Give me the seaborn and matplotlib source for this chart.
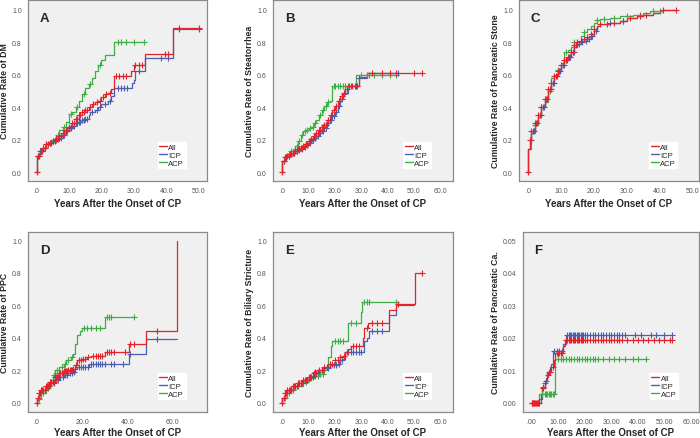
import numpy as np
import pandas as pd
import matplotlib
matplotlib.use("Agg")
import matplotlib.pyplot as plt
import seaborn as sns

# ---------------- data ----------------
# step curves: event times (T) and cumulative rate after each time (Y)
# censor times (C) are plotted as "+" on the curve

# A - DM
A_ALL_T = [0, 0, 1, 2, 3, 4, 5, 6, 7, 8, 9, 10, 11, 12, 13, 14, 15, 16, 17, 18, 19, 20, 21, 22, 23, 24, 29, 30, 33.5, 42, 50]
A_ALL_Y = [0, 0.10, 0.13, 0.15, 0.17, 0.18, 0.19, 0.205, 0.22, 0.24, 0.26, 0.28, 0.305, 0.33, 0.35, 0.37, 0.38, 0.40, 0.42, 0.43, 0.44, 0.46, 0.48, 0.49, 0.51, 0.59, 0.62, 0.66, 0.73, 0.89, 0.89]
A_ALL_C = [0.4, 0.8, 1.2, 1.6, 2.0, 2.5, 3.0, 3.5, 4.0, 4.5, 5.0, 5.5, 6.0, 6.5, 7.0, 7.5, 8.0, 8.5, 9.0, 9.5, 10.0, 10.5, 11.0, 11.5, 12.0, 12.5, 13.0, 13.5, 14.0, 14.5, 15.0, 15.5, 16.5, 17.5, 18.5, 19.5, 20.5, 21.5, 22.5, 24.5, 25.5, 26.5, 27.5, 30.5, 31.5, 32.5, 39.5, 40.5, 44, 50]
A_ICP_T = [0, 0, 1, 2, 3, 4, 5, 6, 7, 8, 9, 10, 11, 12, 13, 14, 15, 16, 16.5, 18, 19, 20, 22, 23, 24, 29.5, 30, 30.5, 33.5, 42, 50]
A_ICP_Y = [0, 0.10, 0.13, 0.15, 0.17, 0.18, 0.19, 0.20, 0.21, 0.23, 0.25, 0.27, 0.285, 0.30, 0.31, 0.32, 0.33, 0.35, 0.37, 0.38, 0.40, 0.42, 0.44, 0.47, 0.52, 0.55, 0.57, 0.62, 0.70, 0.88, 0.88]
A_ICP_C = [0.5, 1, 1.5, 2, 3, 4, 5, 6, 7, 7.5, 8, 8.5, 9, 9.5, 10, 10.5, 11, 11.5, 12, 12.5, 13, 13.5, 14, 14.5, 15, 15.5, 17, 18.5, 19.5, 21, 22.5, 25, 26, 27, 28, 31.5, 38.5, 40.5, 44, 50]
A_ACP_T = [0, 0, 1, 2, 3, 4, 5, 6, 7, 8, 9, 10, 11, 12, 13, 14, 15, 16, 17, 18, 19, 20, 21, 24, 33]
A_ACP_Y = [0, 0.10, 0.13, 0.15, 0.17, 0.185, 0.20, 0.23, 0.26, 0.28, 0.31, 0.355, 0.37, 0.40, 0.44, 0.48, 0.52, 0.54, 0.58, 0.62, 0.66, 0.69, 0.72, 0.80, 0.80]
A_ACP_C = [1.5, 2.5, 3.5, 4.5, 5.5, 6.5, 8.5, 10.5, 12.5, 14.5, 16.5, 19.5, 25, 26, 27.5, 30, 33]

# B - Steatorrhea
B_ALL_T = [0, 0, 1, 2, 3, 4, 5, 6, 7, 8, 9, 10, 11, 12, 13, 14, 15, 16, 17, 18, 19, 20, 21, 22, 23, 24, 25, 29, 32, 53]
B_ALL_Y = [0, 0.07, 0.09, 0.10, 0.11, 0.12, 0.13, 0.14, 0.15, 0.16, 0.175, 0.19, 0.205, 0.22, 0.24, 0.26, 0.275, 0.29, 0.32, 0.35, 0.38, 0.41, 0.44, 0.47, 0.49, 0.51, 0.53, 0.585, 0.61, 0.61]
B_ALL_C = [0.5, 1.0, 1.5, 2.0, 2.5, 3.0, 3.5, 4.0, 4.5, 5.0, 5.5, 6.0, 6.5, 7.0, 7.5, 8.0, 8.5, 9.0, 9.5, 10.0, 10.5, 11.0, 11.5, 12.0, 12.5, 13.0, 13.5, 14.0, 14.5, 15.0, 15.5, 16.0, 16.5, 17.5, 18.5, 19.5, 20.5, 21.5, 22.5, 23.5, 24.5, 25.5, 26.5, 27.5, 28.5, 34, 38, 41, 43, 50, 53]
B_ICP_T = [0, 0, 1, 2, 3, 4, 5, 6, 7, 8, 9, 10, 11, 12, 13, 14, 15, 16, 17, 18, 19, 20, 21, 22, 23, 24, 25, 29, 32, 44]
B_ICP_Y = [0, 0.07, 0.09, 0.10, 0.11, 0.12, 0.13, 0.135, 0.145, 0.155, 0.165, 0.18, 0.195, 0.21, 0.225, 0.24, 0.255, 0.27, 0.30, 0.32, 0.345, 0.37, 0.41, 0.45, 0.48, 0.49, 0.53, 0.58, 0.61, 0.61]
B_ICP_C = [0.5, 1.5, 2.5, 3.5, 4.5, 5.5, 6.5, 7.5, 8.5, 9.5, 10.5, 11.5, 12.5, 13.5, 14.5, 15.5, 16.5, 17.5, 18.5, 19.5, 20.5, 21.5, 22.5, 23.5, 26, 28, 29, 44]
B_ACP_T = [0, 0, 1, 2, 3, 4, 5, 6, 7, 8, 9, 10, 11, 12, 13, 14, 15, 16, 17, 18, 19, 28, 44]
B_ACP_Y = [0, 0.07, 0.09, 0.11, 0.13, 0.14, 0.16, 0.19, 0.23, 0.25, 0.26, 0.27, 0.28, 0.30, 0.32, 0.35, 0.38, 0.41, 0.43, 0.44, 0.53, 0.60, 0.60]
B_ACP_C = [1.5, 2.5, 3.5, 5.5, 6.5, 7.5, 8.5, 9.5, 10.5, 11.5, 12.5, 14.5, 15.5, 16.5, 17.5, 19.5, 20, 21, 22, 23, 24, 25, 30, 32, 33, 35, 38, 41, 43]

# C - Pancreatic stone
C_ALL_T = [0, 0, 0.5, 1, 2, 3, 4, 5, 6, 7, 8, 9, 10, 11, 12, 13, 14, 15, 16, 17, 18, 19, 20, 21, 22, 25, 28, 30, 33, 35, 38, 40, 41, 45]
C_ALL_Y = [0, 0.14, 0.20, 0.25, 0.30, 0.35, 0.40, 0.45, 0.51, 0.55, 0.59, 0.62, 0.66, 0.69, 0.71, 0.74, 0.78, 0.80, 0.81, 0.82, 0.83, 0.85, 0.88, 0.90, 0.91, 0.92, 0.93, 0.95, 0.96, 0.97, 0.98, 0.99, 1.0, 1.0]
C_ALL_C = [0.5, 1.0, 1.5, 2.0, 2.5, 3.0, 3.5, 4.0, 4.5, 5.0, 5.5, 6.0, 6.5, 7.0, 7.5, 8.0, 8.5, 9.0, 9.5, 10.0, 10.5, 11.0, 11.5, 12.0, 12.5, 13.0, 13.5, 14.0, 14.5, 15.0, 16.0, 17.0, 18.0, 19.0, 20.0, 22, 24, 26, 29, 31, 34, 36, 41, 45]
C_ICP_T = [0, 0, 0.5, 1, 2, 3, 4, 5, 6, 7, 8, 9, 10, 11, 12, 13, 14, 15, 16, 17, 18, 19, 20, 21, 22, 25, 28, 30, 33, 35, 38, 40, 41, 45]
C_ICP_Y = [0, 0.14, 0.20, 0.25, 0.30, 0.35, 0.40, 0.45, 0.51, 0.55, 0.59, 0.62, 0.66, 0.69, 0.71, 0.74, 0.77, 0.79, 0.80, 0.81, 0.82, 0.84, 0.87, 0.90, 0.91, 0.92, 0.93, 0.95, 0.96, 0.97, 0.98, 0.99, 1.0, 1.0]
C_ICP_C = [0.8, 1.8, 2.8, 3.8, 4.8, 5.8, 6.8, 7.8, 8.8, 9.8, 10.8, 11.8, 12.8, 13.8, 15.5, 16.5, 17.5, 18.5, 19.5, 20.5, 25, 29]
C_ACP_T = [0, 0, 1, 2, 3, 4, 5, 6, 7, 8, 9, 10, 11, 12, 13, 14, 15, 16, 17, 18, 19, 20, 21, 22, 25, 28, 32, 35, 37, 40]
C_ACP_Y = [0, 0.14, 0.24, 0.29, 0.34, 0.40, 0.43, 0.50, 0.58, 0.60, 0.63, 0.67, 0.74, 0.75, 0.77, 0.80, 0.81, 0.84, 0.86, 0.88, 0.90, 0.92, 0.935, 0.94, 0.95, 0.96, 0.97, 0.98, 0.99, 0.99]
C_ACP_C = [2, 4, 6.5, 9, 11.5, 14, 17, 21, 23, 26, 30, 34, 38, 40]

# D - PPC
D_ALL_T = [0, 0, 1, 2, 4, 6, 8, 10, 12, 14, 16, 17, 18, 20, 22, 24, 30, 40.5, 48, 62]
D_ALL_Y = [0, 0.03, 0.06, 0.075, 0.10, 0.13, 0.16, 0.18, 0.195, 0.20, 0.21, 0.23, 0.26, 0.27, 0.28, 0.29, 0.31, 0.36, 0.44, 1.0]
D_ALL_C = [0.5, 1.0, 1.5, 2.0, 2.5, 3.0, 3.5, 4.0, 4.5, 5.0, 5.5, 6.0, 6.5, 7.0, 7.5, 8.0, 8.5, 9.0, 9.5, 10.0, 10.5, 11.0, 11.5, 12.0, 12.5, 13.0, 13.5, 14.0, 14.5, 15.0, 15.5, 16.0, 17.5, 18.5, 19.5, 20.5, 21.5, 22.5, 25, 26, 27, 28, 29, 31, 32, 33, 34, 39, 41, 43, 53]
D_ICP_T = [0, 0, 1, 2, 4, 6, 8, 10, 12, 14, 16, 17, 18, 23, 40.5, 48, 62]
D_ICP_Y = [0, 0.03, 0.06, 0.075, 0.10, 0.12, 0.14, 0.16, 0.17, 0.18, 0.19, 0.21, 0.22, 0.24, 0.30, 0.39, 0.39]
D_ICP_C = [1.5, 2.5, 3.5, 4.5, 5.5, 6.5, 7.5, 8.5, 9.5, 10.5, 11.5, 12.5, 13.5, 14.5, 15.5, 16.5, 18.5, 19.5, 20.5, 21.5, 22.5, 24, 25, 26, 27, 28, 29, 30, 33, 34, 38, 41, 53]
D_ACP_T = [0, 0, 2, 4, 6, 7, 8, 10, 12, 13, 15, 16, 17, 18, 19, 20, 30, 43]
D_ACP_Y = [0, 0.02, 0.06, 0.09, 0.14, 0.17, 0.20, 0.22, 0.24, 0.26, 0.28, 0.30, 0.36, 0.42, 0.44, 0.46, 0.53, 0.53]
D_ACP_C = [1, 3, 5, 7.5, 9, 11, 12.5, 14, 15.5, 21, 22, 24, 26, 28, 31, 32, 33, 43]

# E - Biliary stricture
E_ALL_T = [0, 0, 1, 2, 4, 6, 8, 10, 12, 14, 16, 18, 20, 22, 23, 24, 25, 26, 30.5, 31, 32.5, 40.5, 43, 50.5, 53]
E_ALL_Y = [0, 0.03, 0.06, 0.08, 0.105, 0.12, 0.14, 0.16, 0.18, 0.20, 0.22, 0.24, 0.26, 0.28, 0.29, 0.31, 0.33, 0.35, 0.40, 0.46, 0.49, 0.57, 0.61, 0.80, 0.80]
E_ALL_C = [0.5, 1.0, 1.5, 2.0, 2.5, 3.0, 3.5, 4.0, 4.5, 5.0, 5.5, 6.0, 6.5, 7.0, 7.5, 8.0, 8.5, 9.0, 9.5, 10.0, 10.5, 11.0, 11.5, 12.0, 13.0, 14.0, 15.0, 16.0, 17.0, 18.0, 19.0, 20.0, 21.0, 22.0, 23.5, 24.5, 27, 28, 29, 32, 34, 36, 38, 44, 53]
E_ICP_T = [0, 0, 1, 2, 4, 6, 8, 10, 12, 14, 16, 18, 20, 21, 22, 23, 24, 31, 32, 33, 40.5, 43, 50]
E_ICP_Y = [0, 0.03, 0.06, 0.08, 0.105, 0.12, 0.14, 0.165, 0.19, 0.20, 0.215, 0.23, 0.235, 0.24, 0.26, 0.27, 0.31, 0.38, 0.40, 0.44, 0.54, 0.60, 0.60]
E_ICP_C = [1.5, 3.5, 5.5, 7.5, 9.5, 11.5, 12.5, 13.5, 15.5, 17.5, 19.5, 20.5, 21.5, 22.5, 25, 26, 27, 28, 29, 30, 34, 36, 38]
E_ACP_T = [0, 0, 2, 3, 5, 8, 10, 12, 14, 16, 17, 17.5, 18.5, 19, 25, 30, 30.3, 43]
E_ACP_Y = [0, 0.03, 0.06, 0.075, 0.10, 0.13, 0.15, 0.165, 0.175, 0.20, 0.22, 0.28, 0.35, 0.38, 0.49, 0.56, 0.62, 0.62]
E_ACP_C = [1, 2.5, 4, 6, 9, 11, 12.5, 13.5, 14.5, 15.5, 20, 21, 22, 23, 26, 28, 31, 32, 33, 43]

# F - Pancreatic cancer
F_ALL_T = [0, 3, 3.5, 4, 5, 5.5, 6, 6.5, 7.5, 8.5, 9, 12, 12.5, 53]
F_ALL_Y = [0, 0.0011, 0.0025, 0.0045, 0.006, 0.0075, 0.0085, 0.0095, 0.011, 0.0132, 0.0153, 0.0173, 0.0192, 0.0192]
F_ALL_C = [0.2, 0.5, 0.8, 1.1, 1.4, 1.7, 2.0, 2.3, 2.6, 2.9, 4.5, 5.2, 6.2, 7.0, 8.0, 9.5, 10.0, 10.5, 11.0, 11.5, 13.0, 13.5, 14.0, 14.5, 15.0, 15.5, 16.0, 16.5, 17.0, 17.5, 18.0, 18.5, 19.0, 19.5, 20.0, 21.0, 22.0, 23.0, 24.0, 25.0, 26.0, 27.0, 28.0, 29.0, 30.0, 31.0, 32.0, 33.0, 34.0, 36, 38, 40, 42, 44, 46, 48, 50, 52, 53]
F_ICP_T = [0, 3.5, 4, 5, 6, 7, 7.5, 8, 12, 13, 53]
F_ICP_Y = [0, 0.001, 0.0048, 0.0068, 0.0095, 0.011, 0.012, 0.016, 0.018, 0.0208, 0.0208]
F_ICP_C = [4.5, 5.5, 6.5, 8.5, 9.5, 10.5, 11.5, 13.5, 14.0, 14.5, 15.0, 15.5, 16.0, 16.5, 17.0, 17.5, 18.0, 18.5, 19.0, 19.5, 20.0, 21.0, 22.0, 23.0, 24.0, 25.0, 26.0, 27.0, 28.0, 29.0, 30.0, 31.0, 32.0, 33.0, 34.0, 35, 39, 41, 45, 47, 50, 53]
F_ACP_T = [0, 3, 9, 43]
F_ACP_Y = [0, 0.0027, 0.0135, 0.0135]
F_ACP_C = [4, 5, 5.5, 6, 6.5, 7, 7.5, 8, 8.5, 10, 11, 12, 13, 14, 15, 16, 17, 18, 19, 20, 21, 22, 23, 24, 25, 27, 29, 31, 33, 35, 38, 40, 43]

PANEL_LETTERS = ["A", "B", "C", "D", "E", "F"]
Y_LABELS = ["Cumulative Rate of DM", "Cumulative Rate of Steatorrhea", "Cumulative Rate of Pancreatic Stone",
            "Cumulative Rate of PPC", "Cumulative Rate of Biliary Stricture", "Cumulative Rate of Pancreatic Ca."]
X_LABEL = "Years After the Onset of CP"
GROUPS = ["All", "ICP", "ACP"]

X_TICKS = [[0, 10, 20, 30, 40, 50], [0, 10, 20, 30, 40, 50, 60], [0, 10, 20, 30, 40, 50],
           [0, 20, 40, 60], [0, 10, 20, 30, 40, 50, 60], [0, 10, 20, 30, 40, 50, 60]]
X_TICKLABELS = [[".0", "10.0", "20.0", "30.0", "40.0", "50.0"],
                [".0", "10.0", "20.0", "30.0", "40.0", "50.0", "60.0"],
                [".0", "10.0", "20.0", "30.0", "40.0", "50.0"],
                [".0", "20.0", "40.0", "60.0"],
                [".0", "10.0", "20.0", "30.0", "40.0", "50.0", "60.0"],
                [".00", "10.00", "20.00", "30.00", "40.00", "50.00", "60.00"]]
Y_TICKS_RATE = [0.0, 0.2, 0.4, 0.6, 0.8, 1.0]
Y_TICKLABELS_RATE = ["0.0", "0.2", "0.4", "0.6", "0.8", "1.0"]
Y_TICKS_CA = [0.0, 0.01, 0.02, 0.03, 0.04, 0.05]
Y_TICKLABELS_CA = ["0.00", "0.01", "0.02", "0.03", "0.04", "0.05"]

# ---------------- style ----------------
sns.set_style("white")
plt.rcParams["font.family"] = ["Liberation Sans", "DejaVu Sans"]

COLORS = {"All": "#E3232C", "ICP": "#4B5FB0", "ACP": "#3DAE45"}
BG = "#F0F0F0"
FRAME = "#8A8A8A"

W, H = 700, 439
fig = plt.figure(figsize=(W / 100, H / 100), dpi=100)

# axes rectangles in pixels: left, top, right, bottom
boxes = [(28, 1, 207, 182), (273, 1, 453, 182), (519, 1, 699, 182),
         (28, 233, 207, 413), (273, 233, 453, 413), (523, 233, 699, 413)]
xlims = [(-2.7, 52.6), (-3.5, 64.8), (-2.8, 52.0), (-3.8, 75.1), (-3.5, 64.8), (-3.2, 63.0)]
ylims = [(-0.055, 1.06)] * 3 + [(-0.058, 1.053)] * 2 + [(-0.0029, 0.0526)]

data = {
    "A": [(A_ALL_T, A_ALL_Y, A_ALL_C), (A_ICP_T, A_ICP_Y, A_ICP_C), (A_ACP_T, A_ACP_Y, A_ACP_C)],
    "B": [(B_ALL_T, B_ALL_Y, B_ALL_C), (B_ICP_T, B_ICP_Y, B_ICP_C), (B_ACP_T, B_ACP_Y, B_ACP_C)],
    "C": [(C_ALL_T, C_ALL_Y, C_ALL_C), (C_ICP_T, C_ICP_Y, C_ICP_C), (C_ACP_T, C_ACP_Y, C_ACP_C)],
    "D": [(D_ALL_T, D_ALL_Y, D_ALL_C), (D_ICP_T, D_ICP_Y, D_ICP_C), (D_ACP_T, D_ACP_Y, D_ACP_C)],
    "E": [(E_ALL_T, E_ALL_Y, E_ALL_C), (E_ICP_T, E_ICP_Y, E_ICP_C), (E_ACP_T, E_ACP_Y, E_ACP_C)],
    "F": [(F_ALL_T, F_ALL_Y, F_ALL_C), (F_ICP_T, F_ICP_Y, F_ICP_C), (F_ACP_T, F_ACP_Y, F_ACP_C)],
}


def step_value(t, T, Y):
    idx = np.searchsorted(np.asarray(T), t, side="right") - 1
    return np.asarray(Y)[np.clip(idx, 0, len(Y) - 1)]


for i, letter in enumerate(PANEL_LETTERS):
    l, t, r, b = boxes[i]
    ax = fig.add_axes([l / W, 1 - b / H, (r - l) / W, (b - t) / H])
    ax.set_facecolor(BG)

    # draw ACP first, then ICP, then All on top
    for g in [2, 1, 0]:
        T, Y, C = data[letter][g]
        name = GROUPS[g]
        df = pd.DataFrame({"t": T, "y": Y})
        sns.lineplot(data=df, x="t", y="y", estimator=None, sort=False,
                     drawstyle="steps-post", color=COLORS[name], linewidth=0.9,
                     label=name, ax=ax)
        cens = pd.DataFrame({"t": C, "y": step_value(np.asarray(C), T, Y)})
        sns.scatterplot(data=cens, x="t", y="y", marker="+", color=COLORS[name],
                        s=14, linewidth=0.8, legend=False, ax=ax, zorder=3)
    # starting point marker at origin
    ax.plot([0], [0], marker="+", color=COLORS["All"], ms=4, mew=0.9, zorder=4)

    ax.set_xlim(*xlims[i])
    ax.set_ylim(*ylims[i])
    ax.set_xticks(X_TICKS[i])
    ax.set_xticklabels(X_TICKLABELS[i])
    if letter == "F":
        ax.set_yticks(Y_TICKS_CA)
        ax.set_yticklabels(Y_TICKLABELS_CA)
    else:
        ax.set_yticks(Y_TICKS_RATE)
        ax.set_yticklabels(Y_TICKLABELS_RATE)

    ax.tick_params(axis="both", direction="out", length=3, width=0.6, color="#555555",
                   labelsize=5, labelcolor="#555555", pad=1.5)
    for sp in ax.spines.values():
        sp.set_color(FRAME)
        sp.set_linewidth(0.9)

    pad = 3 if i < 3 else 1.5
    ax.set_xlabel(X_LABEL, fontsize=7, fontweight="bold", labelpad=pad)
    ax.set_ylabel(Y_LABELS[i], fontsize=6.3, fontweight="bold", labelpad=2)
    ax.text(0.065, 0.935, letter, transform=ax.transAxes, fontsize=9.5,
            fontweight="bold", va="top", ha="left")

    handles, labels = ax.get_legend_handles_labels()
    order = [labels.index(g) for g in GROUPS]
    leg = ax.legend([handles[k] for k in order], GROUPS, loc="lower right",
                    bbox_to_anchor=(0.88, 0.07), fontsize=5.5, frameon=True,
                    fancybox=False, edgecolor="white", framealpha=1,
                    handlelength=1.0, handletextpad=0.2, borderpad=0.2,
                    labelspacing=0.1, borderaxespad=0)
    for h in leg.get_lines():
        h.set_linewidth(1.0)

fig.savefig("out.png", dpi=100, facecolor="white")
